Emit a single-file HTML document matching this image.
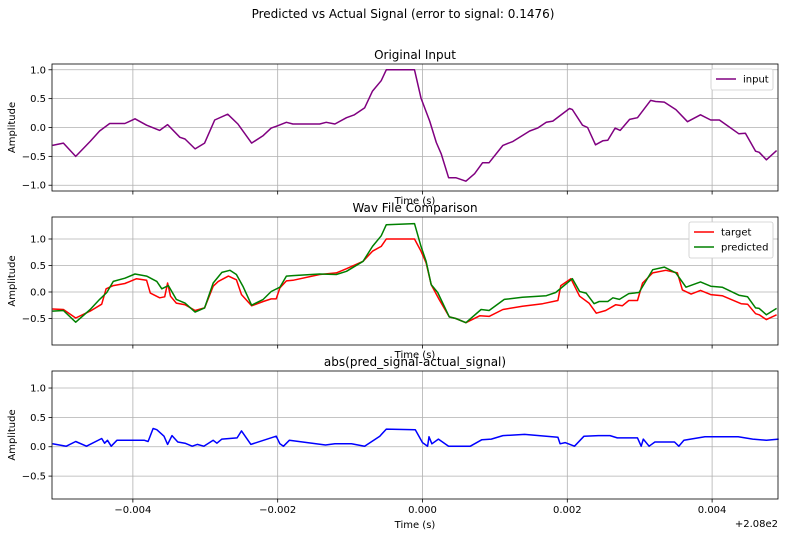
<!DOCTYPE html>
<html><head><meta charset="utf-8"><style>
body{margin:0;background:#fff;font-family:"Liberation Sans","DejaVu Sans",sans-serif}
svg text{font-family:"DejaVu Sans","Liberation Sans",sans-serif;fill:#000}
</style></head><body>
<svg id="c" width="785" height="537" viewBox="0 0 785 537" xmlns="http://www.w3.org/2000/svg"></svg>
<script>
// time in ms offset from 208 s
const inputT=[-5.11,-4.96,-4.79,-4.59,-4.46,-4.32,-4.11,-3.97,-3.81,-3.63,-3.52,-3.35,-3.28,-3.14,-3.01,-2.87,-2.69,-2.55,-2.36,-2.20,-2.09,-2.02,-1.88,-1.79,-1.42,-1.33,-1.21,-1.05,-0.94,-0.80,-0.69,-0.57,-0.50,-0.11,-0.02,0.10,0.19,0.26,0.36,0.46,0.60,0.72,0.83,0.92,1.11,1.25,1.48,1.59,1.71,1.80,2.03,2.07,2.21,2.28,2.39,2.49,2.56,2.66,2.73,2.86,2.97,3.15,3.22,3.34,3.50,3.66,3.84,3.98,4.10,4.37,4.46,4.60,4.65,4.75,4.89];
const inputV=[-0.31,-0.27,-0.50,-0.24,-0.06,0.07,0.07,0.15,0.04,-0.05,0.05,-0.17,-0.20,-0.37,-0.27,0.13,0.23,0.06,-0.27,-0.14,-0.01,0.02,0.09,0.06,0.06,0.09,0.06,0.17,0.22,0.34,0.63,0.81,1.0,1.0,0.51,0.11,-0.26,-0.46,-0.87,-0.87,-0.93,-0.80,-0.61,-0.61,-0.31,-0.24,-0.06,-0.01,0.09,0.11,0.33,0.31,0.04,0.0,-0.30,-0.23,-0.22,-0.01,-0.05,0.14,0.17,0.47,0.45,0.44,0.31,0.10,0.22,0.13,0.13,-0.11,-0.10,-0.41,-0.43,-0.56,-0.40];
const targetT=[-5.11,-4.96,-4.79,-4.59,-4.43,-4.37,-4.27,-4.11,-3.95,-3.81,-3.76,-3.63,-3.56,-3.52,-3.48,-3.40,-3.28,-3.14,-3.01,-2.89,-2.82,-2.68,-2.57,-2.50,-2.36,-2.20,-2.09,-2.02,-1.97,-1.88,-1.79,-1.42,-1.19,-1.05,-0.82,-0.69,-0.57,-0.50,-0.11,-0.02,0.05,0.12,0.23,0.37,0.46,0.60,0.79,0.92,1.11,1.38,1.66,1.87,1.91,2.05,2.17,2.30,2.40,2.53,2.67,2.76,2.85,2.97,3.04,3.18,3.36,3.52,3.59,3.71,3.84,3.98,4.14,4.40,4.49,4.60,4.65,4.75,4.89];
const targetV=[-0.32,-0.33,-0.49,-0.36,-0.23,0.06,0.12,0.16,0.25,0.22,-0.02,-0.11,-0.09,0.17,-0.08,-0.21,-0.24,-0.35,-0.30,0.11,0.20,0.30,0.23,-0.05,-0.26,-0.18,-0.13,-0.13,0.08,0.21,0.22,0.33,0.36,0.44,0.58,0.77,0.86,1.0,1.0,0.77,0.55,0.14,-0.14,-0.47,-0.50,-0.58,-0.45,-0.46,-0.33,-0.27,-0.22,-0.16,0.12,0.25,-0.08,-0.21,-0.40,-0.35,-0.24,-0.26,-0.16,-0.16,0.17,0.36,0.41,0.36,0.04,-0.04,0.03,-0.05,-0.07,-0.22,-0.23,-0.41,-0.43,-0.52,-0.43];
const predT=[-5.11,-4.96,-4.79,-4.59,-4.46,-4.36,-4.27,-4.11,-3.97,-3.81,-3.67,-3.60,-3.51,-3.40,-3.28,-3.14,-3.01,-2.89,-2.77,-2.66,-2.57,-2.48,-2.36,-2.20,-2.09,-1.97,-1.88,-1.79,-1.42,-1.19,-1.05,-0.82,-0.69,-0.57,-0.50,-0.11,-0.02,0.05,0.12,0.21,0.37,0.46,0.60,0.81,0.92,1.13,1.38,1.71,1.84,2.07,2.17,2.26,2.37,2.44,2.56,2.63,2.72,2.85,2.99,3.18,3.34,3.50,3.64,3.84,3.98,4.14,4.37,4.49,4.60,4.65,4.75,4.89];
const predV=[-0.36,-0.35,-0.57,-0.33,-0.14,-0.01,0.20,0.26,0.34,0.30,0.20,0.06,0.12,-0.14,-0.21,-0.38,-0.30,0.17,0.37,0.41,0.33,0.11,-0.25,-0.14,0.01,0.09,0.30,0.31,0.34,0.33,0.39,0.58,0.86,1.06,1.27,1.29,0.86,0.58,0.14,-0.01,-0.47,-0.50,-0.58,-0.33,-0.35,-0.14,-0.10,-0.07,-0.01,0.25,0.01,-0.02,-0.22,-0.18,-0.18,-0.11,-0.14,-0.03,-0.01,0.42,0.47,0.36,0.09,0.19,0.11,0.09,-0.06,-0.09,-0.30,-0.31,-0.43,-0.31];
const errT=[-5.11,-4.92,-4.79,-4.64,-4.43,-4.39,-4.35,-4.30,-4.22,-3.84,-3.79,-3.72,-3.67,-3.57,-3.52,-3.46,-3.38,-3.28,-3.18,-3.11,-3.02,-2.89,-2.84,-2.77,-2.56,-2.50,-2.37,-2.02,-1.97,-1.92,-1.84,-1.34,-1.21,-0.98,-0.80,-0.59,-0.50,-0.10,0,0.07,0.09,0.13,0.22,0.36,0.66,0.82,0.95,1.11,1.41,1.87,1.90,1.97,2.10,2.23,2.43,2.59,2.69,2.97,3.02,3.05,3.13,3.21,3.48,3.54,3.61,3.90,4.36,4.56,4.75,4.92];
const errV=[0.05,0.01,0.09,0.01,0.14,0.06,0.11,0.01,0.11,0.11,0.09,0.31,0.29,0.18,0.04,0.19,0.08,0.06,0.01,0.04,0.01,0.11,0.06,0.13,0.15,0.27,0.04,0.18,0.05,0.01,0.11,0.03,0.05,0.05,0.01,0.18,0.30,0.29,0.07,0.01,0.17,0.05,0.13,0.01,0.01,0.12,0.13,0.19,0.21,0.16,0.05,0.07,0.01,0.18,0.19,0.19,0.15,0.15,0.01,0.13,0.01,0.08,0.08,0.01,0.11,0.17,0.17,0.13,0.11,0.13];
const xTicks=[-4,-2,0,2,4];
const xTickLabels=["\u22120.004","\u22120.002","0.000","0.002","0.004"];
const y1Ticks=[-1,-0.5,0,0.5,1];
const y1Labels=["\u22121.0","\u22120.5","0.0","0.5","1.0"];
const y2Ticks=[-0.5,0,0.5,1];
const y2Labels=["\u22120.5","0.0","0.5","1.0"];

const NS="http://www.w3.org/2000/svg";
const svg=document.getElementById('c');
function el(tag,attrs,parent){const e=document.createElementNS(NS,tag);for(const k in attrs)e.setAttribute(k,attrs[k]);(parent||svg).appendChild(e);return e;}
const X0=52,X1=778,xmin=-5.117,xmax=4.91;
const sx=t=>X0+(t-xmin)/(xmax-xmin)*(X1-X0);

const t0=el('text',{x:403,y:18,'text-anchor':'middle','font-size':12});
t0.textContent='Predicted vs Actual Signal (error to signal: 0.1476)';



const panels=[
 {name:'original-input',top:64,bot:191,ymin:-1.1,ymax:1.1,title:'Original Input',yt:y1Ticks,yl:y1Labels,series:[[inputT,inputV,'#800080','input-line']],legend:[['input','#800080']],lw:62,showX:false},
 {name:'wav-comparison',top:217,bot:345,ymin:-1.0,ymax:1.415,title:'Wav File Comparison',yt:y2Ticks,yl:y2Labels,series:[[targetT,targetV,'#ff0000','target-line'],[predT,predV,'#008000','predicted-line']],legend:[['target','#ff0000'],['predicted','#008000']],lw:84,showX:false},
 {name:'abs-error',top:371,bot:499,ymin:-0.89,ymax:1.29,title:'abs(pred_signal-actual_signal)',yt:y2Ticks,yl:y2Labels,series:[[errT,errV,'#0000ff','error-line']],legend:[],showX:true}
];
panels.forEach(p=>{
 const g=el('g',{});
 
 
 const sy=v=>p.bot-(v-p.ymin)/(p.ymax-p.ymin)*(p.bot-p.top);
 xTicks.forEach((t,i)=>{
  const x=sx(t);
  const gl=el('line',{x1:x,x2:x,y1:p.top,y2:p.bot,stroke:'#b0b0b0','stroke-width':0.8},g);
  
  
  el('line',{x1:x,x2:x,y1:p.bot,y2:p.bot+3.5,stroke:'#000','stroke-width':0.8},g);
  if(p.showX){const tl=el('text',{x:x,y:p.bot+14,'text-anchor':'middle','font-size':10},g);tl.textContent=xTickLabels[i];
   
   }
 });
 p.yt.forEach((v,i)=>{
  const y=sy(v);
  const gl=el('line',{x1:X0,x2:X1,y1:y,y2:y,stroke:'#b0b0b0','stroke-width':0.8},g);
  
  
  el('line',{x1:X0-3.5,x2:X0,y1:y,y2:y,stroke:'#000','stroke-width':0.8},g);
  const tl=el('text',{x:X0-6,y:y+3.5,'text-anchor':'end','font-size':10},g);tl.textContent=p.yl[i];
  
  
 });
 p.series.forEach(s=>{
  const pts=s[0].map((t,i)=>sx(t).toFixed(1)+','+sy(s[1][i]).toFixed(1)).join(' ');
  const pl=el('polyline',{points:pts,fill:'none',stroke:s[2],'stroke-width':1.5,'stroke-linejoin':'round'},g);
  
  
 });
 el('rect',{x:X0,y:p.top,width:X1-X0,height:p.bot-p.top,fill:'none',stroke:'#000','stroke-width':0.8},g);
 const tt=el('text',{x:(X0+X1)/2,y:p.top-5,'text-anchor':'middle','font-size':12},g);tt.textContent=p.title;
 
 
 const xl=el('text',{x:(X0+X1)/2,y:p.showX?p.bot+29:p.bot+13,'text-anchor':'middle','font-size':10},g);xl.textContent='Time (s)';
 
 
 const cy=(p.top+p.bot)/2;
 const yl=el('text',{x:15,y:cy,'text-anchor':'middle','font-size':10,transform:'rotate(-90 15 '+cy+')'},g);yl.textContent='Amplitude';
 
 
 if(p.legend.length){
  const lg=el('g',{},g);
  
  
  const lx=X1-5-p.lw, ly=p.top+5;
  el('rect',{x:lx,y:ly,width:p.lw,height:6+p.legend.length*15,fill:'#fff',stroke:'#ccc','stroke-width':0.8,rx:2},lg);
  p.legend.forEach((e,i)=>{
   const yy=ly+10+i*15;
   el('line',{x1:lx+5,x2:lx+25,y1:yy,y2:yy,stroke:e[1],'stroke-width':1.5},lg);
   const lt=el('text',{x:lx+32,y:yy+3.5,'font-size':10},lg);lt.textContent=e[0];
   
   
  });
 }
});
const off=el('text',{x:X1,y:527,'text-anchor':'end','font-size':10});
off.textContent='+2.08e2';


</script>
</body></html>
